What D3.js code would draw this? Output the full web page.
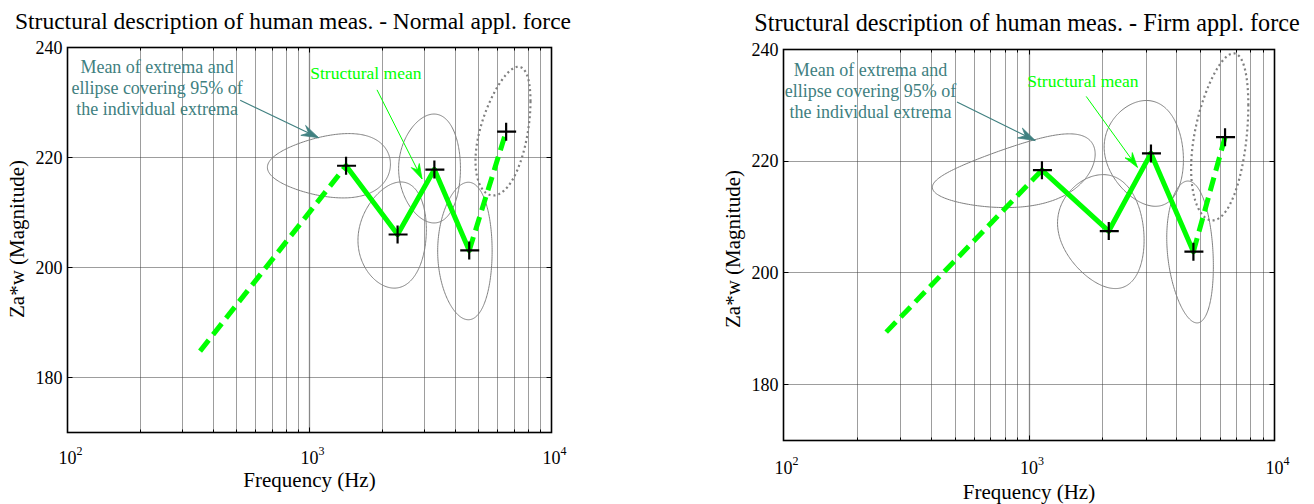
<!DOCTYPE html>
<html><head><meta charset="utf-8">
<script src="https://cdn.jsdelivr.net/npm/d3@7"></script>
<style>
body{margin:0;background:#fff}
svg{display:block}
text{font-family:"Liberation Serif","Times New Roman",Times,serif}
</style>
</head><body>
<svg id="chart" width="1314" height="504"></svg>
<script>
// ---------------- data ----------------
const panelTitles = [
  "Structural description of human meas. - Normal appl. force",
  "Structural description of human meas. - Firm appl. force"
];
const xAxisLabel = "Frequency (Hz)";
const yAxisLabel = "Za*w (Magnitude)";
const xDomain = [100, 10000];
const yDomain = [170, 240];
const xTickExponents = [2, 3, 4];
const yTickValues = [180, 200, 220, 240];
const yGridValues = [180, 200, 220];
const xGridFreqs = [200, 300, 400, 500, 600, 700, 800, 900, 1000, 2000, 3000, 4000, 5000, 6000, 7000, 8000, 9000];

// structural mean (first point = start of dashed lead-in, others = mean of extrema)
const normalFreq = [353, 1416, 2312, 3281, 4571, 6495];
const normalMag  = [184.8, 218.5, 206.0, 217.8, 203.1, 224.7];
const firmFreq   = [262, 1129, 2113, 3139, 4674, 6289];
const firmMag    = [189.4, 218.4, 207.5, 221.4, 203.8, 224.3];
// segment styles between consecutive points
const segmentStyles = ["dashed", "solid", "solid", "solid", "dashed"];

// 95% ellipses (linear frequency): centre, half-extent in freq, half-extent in magnitude, correlation
const normalEllFreq  = [1415, 2313, 3270, 4535, 6520];
const normalEllMag   = [218.5, 205.9, 218.0, 203.0, 224.8];
const normalEllFHalf = [745, 727, 935, 1149, 1668];
const normalEllMHalf = [5.85, 9.65, 9.9, 12.5, 11.7];
const normalEllRho   = [0.05, 0.1, 0.0, 0.0, 0.465];
const firmEllFreq    = [1132, 2125, 3140, 4638, 6199];
const firmEllMag     = [218.3, 207.4, 221.4, 203.75, 224.35];
const firmEllFHalf   = [728, 818, 1116, 998, 1624];
const firmEllMHalf   = [6.6, 10.2, 9.47, 12.7, 14.95];
const firmEllRho     = [0.45, -0.15, -0.12, -0.2, 0.38];
const ellipseStyles  = ["solid", "solid", "solid", "solid", "dotted"];

// annotations (data coordinates: frequency, magnitude)
const noteText = ["Mean of extrema and", "ellipse covering 95% of", "the individual extrema"];
const meanText = "Structural mean";
const normalNoteAnchor = [234.6, 235.3];
const firmNoteAnchor   = [226, 235.3];
const normalNoteArrow  = [[517, 230.4], [1090, 223.6]];
const firmNoteArrow    = [[509, 230.6], [1060, 223.7]];
const normalMeanAnchor = [1007, 234.2];
const firmMeanAnchor   = [984, 233.2];
const normalMeanArrow  = [[1901, 232.3], [2918, 216.1]];
const firmMeanArrow    = [[1710, 231.6], [2765, 218.9]];

// ---------------- layout ----------------
const panels = [
  {title: panelTitles[0], titleX: 293, titleY: 29, titleSize: 23.5, box: {x0: 67.5, x1: 551.5, y0: 47.5, y1: 432.5},
   freq: normalFreq, mag: normalMag,
   ell: {f: normalEllFreq, m: normalEllMag, fh: normalEllFHalf, mh: normalEllMHalf, rho: normalEllRho},
   note: normalNoteAnchor, noteArrow: normalNoteArrow, mean: normalMeanAnchor, meanArrow: normalMeanArrow,
   yLabelX: 24, yLabelY: 239, xLabelY: 487, xTickY: 464},
  {title: panelTitles[1], titleX: 1027, titleY: 31, titleSize: 24.2, box: {x0: 783.5, x1: 1274.5, y0: 49.5, y1: 440.5},
   freq: firmFreq, mag: firmMag,
   ell: {f: firmEllFreq, m: firmEllMag, fh: firmEllFHalf, mh: firmEllMHalf, rho: firmEllRho},
   note: firmNoteAnchor, noteArrow: firmNoteArrow, mean: firmMeanAnchor, meanArrow: firmMeanArrow,
   yLabelX: 740, yLabelY: 249, xLabelY: 499, xTickY: 474}
];

const TEAL = "#408080", GREEN = "#00ff00", GRAY = "#808080";
const svg = d3.select("#chart");
const crisp = v => Math.round(v - 0.5) + 0.5;

function arrowHead(g, x1, y1, x2, y2, len, half, notch, color) {
  const a = Math.atan2(y2 - y1, x2 - x1);
  const ca = Math.cos(a), sa = Math.sin(a);
  const pt = (l, w) => [x2 - l * ca - w * sa, y2 - l * sa + w * ca];
  const p = [[x2, y2], pt(len, half), pt(notch, 0), pt(len, -half)];
  g.append("path").attr("d", "M" + p.map(q => q.join(",")).join("L") + "Z")
    .attr("fill", color).attr("stroke", color).attr("stroke-width", 0.8);
}

panels.forEach(P => {
  const b = P.box;
  const x = d3.scaleLog().domain(xDomain).range([b.x0, b.x1]);
  const y = d3.scaleLinear().domain(yDomain).range([b.y1, b.y0]);
  const g = svg.append("g");

  // grid
  g.selectAll(".vg").data(xGridFreqs).enter().append("line")
    .attr("x1", d => crisp(x(d))).attr("x2", d => crisp(x(d))).attr("y1", b.y0).attr("y2", b.y1)
    .attr("stroke", d => d === 1000 ? "#111" : "#3a3a3a")
    .attr("stroke-width", d => d === 1000 ? 1.3 : 1)
    .attr("stroke-dasharray", "1,1");
  g.selectAll(".hg").data(yGridValues).enter().append("line")
    .attr("x1", b.x0).attr("x2", b.x1).attr("y1", d => crisp(y(d))).attr("y2", d => crisp(y(d)))
    .attr("stroke", "#3a3a3a").attr("stroke-width", 1).attr("stroke-dasharray", "1,1");

  // ellipses
  const ts = d3.range(0, 2 * Math.PI, Math.PI / 120);
  P.ell.f.forEach((cf, i) => {
    const rf = P.ell.fh[i], cm = P.ell.m[i], rm = P.ell.mh[i], r = P.ell.rho[i];
    const pts = ts.map(t => [cf + rf * Math.cos(t), cm + rm * (r * Math.cos(t) + Math.sqrt(1 - r * r) * Math.sin(t))]);
    const line = d3.line().x(d => x(d[0])).y(d => y(d[1])).curve(d3.curveLinearClosed);
    const dotted = ellipseStyles[i] === "dotted";
    g.append("path").attr("d", line(pts)).attr("fill", "none")
      .attr("stroke", GRAY).attr("stroke-width", dotted ? 2.2 : 1)
      .attr("stroke-dasharray", dotted ? "2,3" : null);
  });

  // structural mean line
  segmentStyles.forEach((s, i) => {
    g.append("line")
      .attr("x1", x(P.freq[i])).attr("y1", y(P.mag[i]))
      .attr("x2", x(P.freq[i + 1])).attr("y2", y(P.mag[i + 1]))
      .attr("stroke", GREEN).attr("stroke-width", 5)
      .attr("stroke-linecap", s === "solid" ? "round" : "butt")
      .attr("stroke-dasharray", s === "dashed" ? "14,7" : null);
  });

  // markers
  P.freq.slice(1).forEach((f, i) => {
    const cx = x(f), cy = y(P.mag[i + 1]);
    g.append("path").attr("d", `M${cx - 9},${cy}H${cx + 10}M${cx},${cy - 9}V${cy + 9}`)
      .attr("stroke", "#000").attr("stroke-width", 2.2).attr("fill", "none");
  });

  // annotations
  const nx = x(P.note[0]), ny = y(P.note[1]);
  const nt = g.append("text").attr("x", nx).attr("y", ny).attr("text-anchor", "middle")
    .attr("font-size", 18).attr("fill", TEAL);
  noteText.forEach((s, i) => nt.append("tspan").attr("x", nx).attr("dy", i === 0 ? 0 : 21).text(s));
  const na = P.noteArrow.map(d => [x(d[0]), y(d[1])]);
  g.append("line").attr("x1", na[0][0]).attr("y1", na[0][1]).attr("x2", na[1][0]).attr("y2", na[1][1])
    .attr("stroke", TEAL).attr("stroke-width", 1.2);
  arrowHead(g, na[0][0], na[0][1], na[1][0], na[1][1], 17, 5.5, 11, TEAL);

  g.append("text").attr("x", x(P.mean[0])).attr("y", y(P.mean[1]))
    .attr("font-size", 17.5).attr("fill", GREEN).text(meanText);
  const ma = P.meanArrow.map(d => [x(d[0]), y(d[1])]);
  g.append("line").attr("x1", ma[0][0]).attr("y1", ma[0][1]).attr("x2", ma[1][0]).attr("y2", ma[1][1])
    .attr("stroke", GREEN).attr("stroke-width", 1);
  arrowHead(g, ma[0][0], ma[0][1], ma[1][0], ma[1][1], 15, 4.5, 10, GREEN);

  // frame
  g.append("rect").attr("x", b.x0).attr("y", b.y0).attr("width", b.x1 - b.x0).attr("height", b.y1 - b.y0)
    .attr("fill", "none").attr("stroke", "#000").attr("stroke-width", 1.6);

  // ticks (inside)
  const allX = [100].concat(xGridFreqs, [10000]);
  allX.forEach(f => {
    const len = [100, 1000, 10000].includes(f) ? 5 : 3;
    const xx = crisp(x(f));
    g.append("line").attr("x1", xx).attr("x2", xx).attr("y1", b.y1).attr("y2", b.y1 - len).attr("stroke", "#000");
    g.append("line").attr("x1", xx).attr("x2", xx).attr("y1", b.y0).attr("y2", b.y0 + len).attr("stroke", "#000");
  });
  yTickValues.forEach(v => {
    const yy = crisp(y(v));
    g.append("line").attr("x1", b.x0).attr("x2", b.x0 + 5).attr("y1", yy).attr("y2", yy).attr("stroke", "#000");
    g.append("line").attr("x1", b.x1).attr("x2", b.x1 - 5).attr("y1", yy).attr("y2", yy).attr("stroke", "#000");
  });

  // tick labels
  yTickValues.forEach(v => {
    g.append("text").attr("x", b.x0 - 5).attr("y", y(v) + 6).attr("text-anchor", "end")
      .attr("font-size", 18).text(v);
  });
  xTickExponents.forEach(e => {
    const t = g.append("text").attr("x", x(Math.pow(10, e)) + 3).attr("y", P.xTickY).attr("text-anchor", "middle")
      .attr("font-size", 18);
    t.append("tspan").text("10");
    t.append("tspan").attr("font-size", 12).attr("dy", -9).text(e);
  });

  // axis labels & title
  g.append("text").attr("x", (b.x0 + b.x1) / 2).attr("y", P.xLabelY).attr("text-anchor", "middle")
    .attr("font-size", 21).text(xAxisLabel);
  g.append("text").attr("transform", `translate(${P.yLabelX},${P.yLabelY}) rotate(-90)`)
    .attr("text-anchor", "middle").attr("font-size", 21).text(yAxisLabel);
  g.append("text").attr("x", P.titleX).attr("y", P.titleY).attr("text-anchor", "middle")
    .attr("font-size", P.titleSize).text(P.title);
});
</script>
</body></html>
